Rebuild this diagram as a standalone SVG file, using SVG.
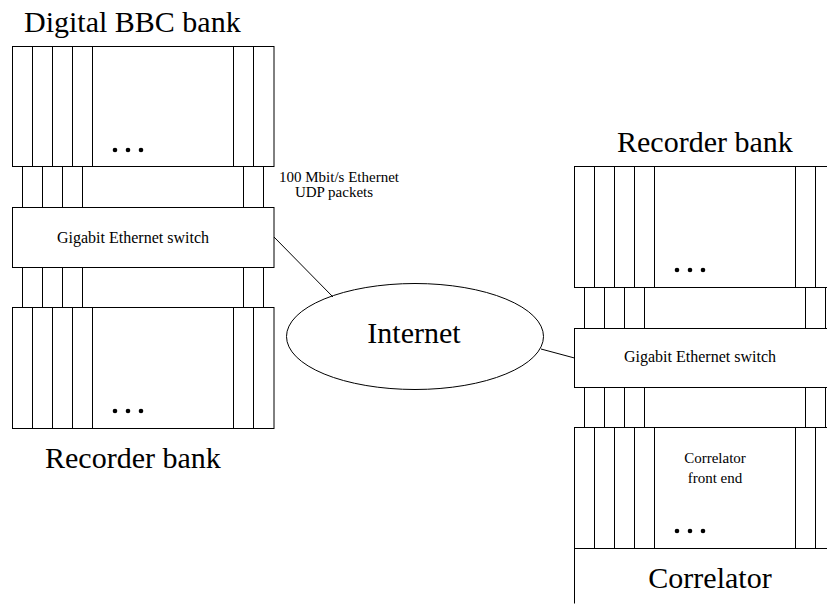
<svg xmlns="http://www.w3.org/2000/svg" width="827" height="605" viewBox="0 0 827 605">
<style>
.b{fill:#fff;stroke:#000;stroke-width:1}
.l{stroke:#000;stroke-width:1;fill:none}
.big{font-family:"Liberation Serif","Times New Roman",serif;font-size:30px;fill:#000}
.sm{font-family:"Liberation Serif","Times New Roman",serif;font-size:15px;fill:#000}
.md{font-family:"Liberation Serif","Times New Roman",serif;font-size:16px;fill:#000}
.d{fill:#000}
</style>
<rect width="827" height="605" fill="#fff"/>
<g id="left-title"><text class="big" x="24" y="32">Digital BBC bank</text></g>
<g id="digital-bbc-bank">
<rect class="b" x="12.5" y="46.5" width="261.5" height="120"/>
<path class="l" d="M32.5 46.5V166.5M52.5 46.5V166.5M72.5 46.5V166.5M92.5 46.5V166.5M233.5 46.5V166.5M253.5 46.5V166.5"/>
<circle class="d" cx="115" cy="150" r="2.3"/><circle class="d" cx="128" cy="150" r="2.3"/><circle class="d" cx="141" cy="150" r="2.3"/>
</g>
<g id="left-strips-top">
<path class="l" d="M22.5 166.5V207.5M42.5 166.5V207.5M62.5 166.5V207.5M82.5 166.5V207.5M243.5 166.5V207.5M263.5 166.5V207.5"/>
</g>
<g id="left-switch">
<rect class="b" x="12.5" y="207.5" width="261.5" height="60"/>
<text class="md" x="133" y="243" text-anchor="middle">Gigabit Ethernet switch</text>
</g>
<g id="left-strips-bottom">
<path class="l" d="M22.5 267.5V307.5M42.5 267.5V307.5M62.5 267.5V307.5M82.5 267.5V307.5M243.5 267.5V307.5M263.5 267.5V307.5"/>
</g>
<g id="left-recorder-bank">
<rect class="b" x="12.5" y="307.5" width="261.5" height="121"/>
<path class="l" d="M32.5 307.5V428.5M52.5 307.5V428.5M72.5 307.5V428.5M92.5 307.5V428.5M233.5 307.5V428.5M253.5 307.5V428.5"/>
<circle class="d" cx="115" cy="411" r="2.3"/><circle class="d" cx="128" cy="411" r="2.3"/><circle class="d" cx="141" cy="411" r="2.3"/>
<text class="big" x="45" y="468">Recorder bank</text>
</g>
<g id="udp-label">
<text class="sm" x="339" y="182" text-anchor="middle">100 Mbit/s Ethernet</text>
<text class="sm" x="334" y="197" text-anchor="middle">UDP packets</text>
</g>
<g id="internet">
<ellipse class="b" cx="415" cy="336.5" rx="128.5" ry="53"/>
<text class="big" x="414" y="343" text-anchor="middle">Internet</text>
</g>
<g id="right-recorder-bank">
<text class="big" x="617" y="152">Recorder bank</text>
<rect class="b" x="574.5" y="166.5" width="262" height="121"/>
<path class="l" d="M594.5 166.5V287.5M614.5 166.5V287.5M634.5 166.5V287.5M654.5 166.5V287.5M795.5 166.5V287.5M815.5 166.5V287.5"/>
<circle class="d" cx="677" cy="270" r="2.3"/><circle class="d" cx="690" cy="270" r="2.3"/><circle class="d" cx="703" cy="270" r="2.3"/>
</g>
<g id="right-strips-top">
<path class="l" d="M584.5 287.5V328.5M604.5 287.5V328.5M624.5 287.5V328.5M644.5 287.5V328.5M805.5 287.5V328.5M825.5 287.5V328.5"/>
</g>
<g id="right-switch">
<rect class="b" x="574.5" y="328.5" width="262" height="59"/>
<text class="md" x="700" y="362" text-anchor="middle">Gigabit Ethernet switch</text>
</g>
<g id="right-strips-bottom">
<path class="l" d="M584.5 387.5V427.5M604.5 387.5V427.5M624.5 387.5V427.5M644.5 387.5V427.5M805.5 387.5V427.5M825.5 387.5V427.5"/>
</g>
<g id="correlator-front-end">
<rect class="b" x="574.5" y="427.5" width="262" height="121"/>
<path class="l" d="M594.5 427.5V548.5M614.5 427.5V548.5M634.5 427.5V548.5M654.5 427.5V548.5M795.5 427.5V548.5M815.5 427.5V548.5"/>
<text class="sm" x="715" y="463" text-anchor="middle">Correlator</text>
<text class="sm" x="715" y="483" text-anchor="middle">front end</text>
<circle class="d" cx="677" cy="531" r="2.3"/><circle class="d" cx="690" cy="531" r="2.3"/><circle class="d" cx="703" cy="531" r="2.3"/>
</g>
<g id="correlator">
<path class="l" d="M574.5 603.5V548.5H827"/>
<text class="big" x="710" y="588" text-anchor="middle">Correlator</text>
</g>
<g id="connectors">
<line class="l" x1="274" y1="237" x2="333" y2="297"/>
<line class="l" x1="541" y1="349" x2="574.5" y2="358"/>
</g>
</svg>
